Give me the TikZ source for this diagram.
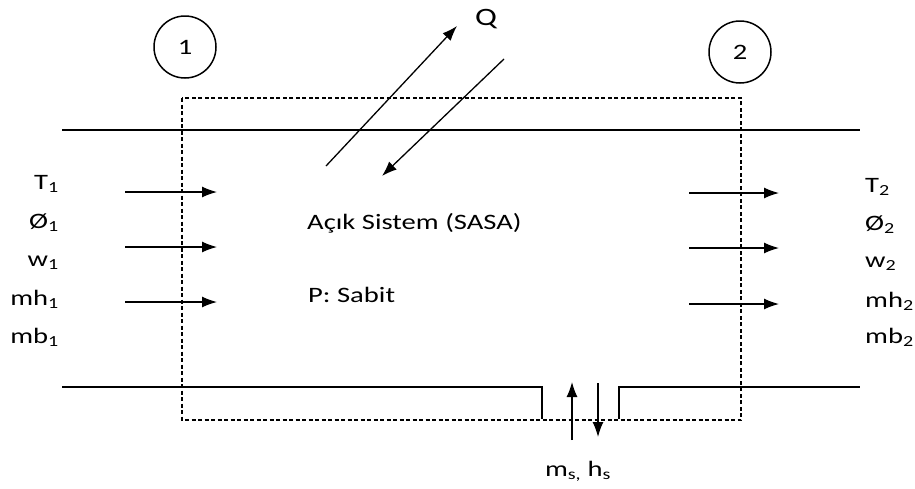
\documentclass[tikz,border=0pt]{standalone}
\usepackage{fontspec}
\setmainfont[FakeStretch=1.3]{Carlito}
\usetikzlibrary{arrows.meta}

\begin{document}
\begin{tikzpicture}[x=1pt,y=-1pt,>={Latex[length=15pt,width=11pt]},
  font=\fontsize{22}{26}\selectfont,
  pipe/.style={line width=2.8pt},
  flow/.style={->,line width=1.3pt},
  cv/.style={dash pattern=on 4pt off 2.5pt,line width=1.1pt},
  station/.style={draw,circle,line width=1.5pt,minimum size=62pt,inner sep=0pt},
  lbl/.style={inner sep=0pt}]
  \useasboundingbox (0,0) rectangle (915,488);
  % pipe walls
  \draw[pipe] (62,130) -- (860,130);
  \draw[pipe] (62,387) -- (542,387) -- (542,419);
  \draw[pipe] (619,419) -- (619,387) -- (860,387);
  % control volume
  \draw[cv] (182,98) rectangle (741,420);
  % stations
  \node[station] (st1) at (185,47) {1};
  \node[station] (st2) at (740,52) {2};
  % heat
  \node[lbl,font=\fontsize{25}{30}\selectfont] (Q) at (486,19) {Q};
  \coordinate (qOutA) at (326,166);
  \coordinate (qOutB) at (457,26);
  \coordinate (qInA) at (504,59);
  \coordinate (qInB) at (382,176);
  \draw[flow] (qOutA) -- (qOutB);
  \draw[flow] (qInA) -- (qInB);
  % system
  \node[lbl,anchor=base west] (sys) at (307,229) {Açık Sistem (SASA)};
  \node[lbl,anchor=base west] (press) at (308,302) {P: Sabit};
  % inlet 1
  \node[lbl,anchor=base east] (T1) at (59,189) {T\textsubscript{1}};
  \node[lbl,anchor=base east] (phi1) at (59,228) {Ø\textsubscript{1}};
  \node[lbl,anchor=base east] (w1) at (59,266) {w\textsubscript{1}};
  \node[lbl,anchor=base east] (mh1) at (59,305) {mh\textsubscript{1}};
  \node[lbl,anchor=base east] (mb1) at (59,343) {mb\textsubscript{1}};
  \coordinate (inA1) at (125,192); \coordinate (inB1) at (217,192);
  \coordinate (inA2) at (125,247); \coordinate (inB2) at (217,247);
  \coordinate (inA3) at (125,302); \coordinate (inB3) at (217,302);
  \draw[flow] (inA1) -- (inB1);
  \draw[flow] (inA2) -- (inB2);
  \draw[flow] (inA3) -- (inB3);
  % outlet 2
  \node[lbl,anchor=base west] (T2) at (865,192) {T\textsubscript{2}};
  \node[lbl,anchor=base west] (phi2) at (865,230) {Ø\textsubscript{2}};
  \node[lbl,anchor=base west] (w2) at (865,267) {w\textsubscript{2}};
  \node[lbl,anchor=base west] (mh2) at (865,307) {mh\textsubscript{2}};
  \node[lbl,anchor=base west] (mb2) at (865,343) {mb\textsubscript{2}};
  \coordinate (outA1) at (689,193); \coordinate (outB1) at (779,193);
  \coordinate (outA2) at (689,248); \coordinate (outB2) at (779,248);
  \coordinate (outA3) at (689,304); \coordinate (outB3) at (779,304);
  \draw[flow] (outA1) -- (outB1);
  \draw[flow] (outA2) -- (outB2);
  \draw[flow] (outA3) -- (outB3);
  % steam port
  \node[lbl,anchor=base] (steam) at (578,476) {m\textsubscript{s,} h\textsubscript{s}};
  \coordinate (sUpA) at (572,440); \coordinate (sUpB) at (572,382);
  \coordinate (sDnA) at (598,383); \coordinate (sDnB) at (598,437);
  \draw[flow] (sUpA) -- (sUpB);
  \draw[flow] (sDnA) -- (sDnB);
\end{tikzpicture}
\end{document}
